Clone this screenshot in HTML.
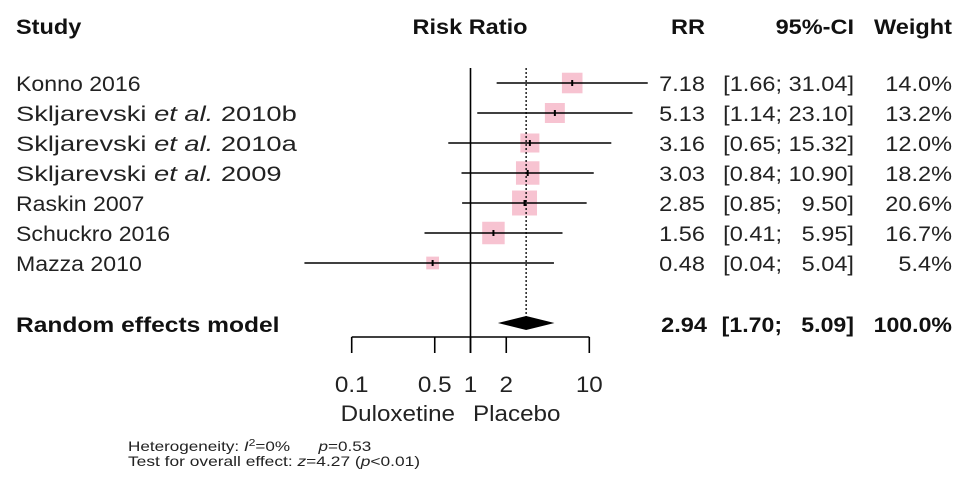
<!DOCTYPE html>
<html><head><meta charset="utf-8"><style>
html,body{margin:0;padding:0;background:#fff;width:969px;height:489px;overflow:hidden}
svg{font-family:"Liberation Sans",Arial,sans-serif}
#het{white-space:pre}
</style></head><body>
<svg id="fp" width="969" height="489" viewBox="0 0 969 489">
<g id="hdr" font-weight="bold" font-size="21" fill="#111">
<text class="st" x="16" y="34">Study</text>
<text class="st" x="470" y="34" text-anchor="middle">Risk Ratio</text>
<text class="st" x="705" y="34" text-anchor="end">RR</text>
<text class="st" x="854" y="34" text-anchor="end">95%-CI</text>
<text class="st" x="952" y="34" text-anchor="end">Weight</text>
</g>
<g id="rows"></g>
<g id="axis"></g>
<g font-size="14" fill="#222">
<text id="het" x="128" y="451">Heterogeneity: <tspan font-style="italic">I</tspan><tspan dy="-5" font-size="10">2</tspan><tspan dy="5">=0%      </tspan><tspan font-style="italic">p</tspan>=0.53</text>
<text id="ovr" x="128" y="466">Test for overall effect: <tspan font-style="italic">z</tspan>=4.27 (<tspan font-style="italic">p</tspan>&lt;0.01)</text>
</g>
</svg>
<script>
const studies=["Konno 2016","Skljarevski|2010b","Skljarevski|2010a","Skljarevski|2009","Raskin 2007","Schuckro 2016","Mazza 2010"];
const rr=[7.18,5.13,3.16,3.03,2.85,1.56,0.48];
const lower=[1.66,1.14,0.65,0.84,0.85,0.41,0.04];
const upper=[31.04,23.10,15.32,10.90,9.50,5.95,5.04];
const weights=[14.0,13.2,12.0,18.2,20.6,16.7,5.4];
const pooled=[2.94,1.70,5.09];
const ticks=[0.1,0.5,1,2,10];
const tickLabels=["0.1","0.5","1","2","10"];
const NS="http://www.w3.org/2000/svg";
const X=v=>470.5+Math.log10(v)*118.8;
const Y=i=>83+i*30;
function mk(p,t,a,txt){const e=document.createElementNS(NS,t);for(const k in a)e.setAttribute(k,a[k]);if(txt!==undefined)e.textContent=txt;p.appendChild(e);return e;}
const stretchList=[];
function st(el,f){stretchList.push([el,f]);}
const rows=document.getElementById('rows'),ax=document.getElementById('axis');
let l=mk(ax,'line',{x1:X(1),x2:X(1),y1:68,y2:353,stroke:'#000','stroke-width':1.6});


l=mk(ax,'line',{x1:X(pooled[0]),x2:X(pooled[0]),y1:68,y2:318,stroke:'#000','stroke-width':1.3,'stroke-dasharray':'2,2'});


const f2=v=>v.toFixed(2);
studies.forEach((s,i)=>{
 const y=Y(i);
 const g=mk(rows,'g',{fill:'#222'});
 
 
 const sz=5.5*Math.sqrt(weights[i]);
 const sq=mk(g,'rect',{x:X(rr[i])-sz/2,y:y-sz/2,width:sz,height:sz,fill:'#f7c3d1'});
 
 
 const ci=mk(g,'line',{x1:X(lower[i]),x2:X(upper[i]),y1:y,y2:y,stroke:'#000','stroke-width':1.6});
 
 
 const pt=mk(g,'line',{x1:X(rr[i]),x2:X(rr[i]),y1:y-3,y2:y+3,stroke:'#000','stroke-width':2});
 
 
 const parts=s.split('|');
 const t=mk(g,'text',{x:16,y:y+8,'font-size':21});
 
 
 if(parts.length>1){t.textContent=parts[0]+' ';mk(t,'tspan',{'font-style':'italic'},'et al.');mk(t,'tspan',{},' '+parts[1]);st(t,1.3);}
 else {t.textContent=s;st(t,1.1);}
 let tr=mk(g,'text',{x:705,y:y+8,'font-size':21,'text-anchor':'end'},f2(rr[i]));
 
 
 st(tr,1.12);
 const up=f2(upper[i]);const ciTxt='['+f2(lower[i])+'; '+(up.length<5?'  ':'')+up+']';
 let tc=mk(g,'text',{x:854,y:y+8,'font-size':21,'text-anchor':'end'},ciTxt);
 tc.style.whiteSpace='pre';
 
 
 st(tc,1.12);
 let tw=mk(g,'text',{x:952,y:y+8,'font-size':21,'text-anchor':'end'},weights[i].toFixed(1)+'%');
 
 
 st(tw,1.12);
});
const py=323;
const pg=mk(rows,'g',{'font-weight':'bold','font-size':21,fill:'#111'});


const dm=mk(pg,'polygon',{points:`${X(pooled[1])},${py} ${X(pooled[0])},${py-7} ${X(pooled[2])},${py} ${X(pooled[0])},${py+7}`,fill:'#000'});


let pt1=mk(pg,'text',{x:16,y:py+9},'Random effects model');


st(pt1,1.17);
let pt2=mk(pg,'text',{x:707,y:py+9,'text-anchor':'end'},f2(pooled[0]));


st(pt2,1.12);
let pt3=mk(pg,'text',{x:854,y:py+9,'text-anchor':'end'},'['+f2(pooled[1])+'; '+(pooled[2]<10?'  ':'')+f2(pooled[2])+']');
pt3.style.whiteSpace='pre';


st(pt3,1.1);
let pt4=mk(pg,'text',{x:952,y:py+9,'text-anchor':'end'},'100.0%');


st(pt4,1.1);
const ay=337;
l=mk(ax,'line',{x1:X(ticks[0]),x2:X(ticks[ticks.length-1]),y1:ay,y2:ay,stroke:'#000','stroke-width':1.6});


ticks.forEach((t,i)=>{
 const tk=mk(ax,'line',{x1:X(t),x2:X(t),y1:ay,y2:353,stroke:'#000','stroke-width':1.6});
 
 
 const tl=mk(ax,'text',{x:X(t),y:392,'font-size':22,'text-anchor':'middle',fill:'#222'},tickLabels[i]);
 
 
 st(tl,1.1);
});
let d1=mk(ax,'text',{x:455,y:421,'font-size':22,'text-anchor':'end',fill:'#222'},'Duloxetine');


st(d1,1.1);
let d2=mk(ax,'text',{x:473,y:421,'font-size':22,fill:'#222'},'Placebo');


st(d2,1.1);
document.querySelectorAll('.st').forEach(e=>st(e,1.12));
st(document.getElementById('het'),1.22);
st(document.getElementById('ovr'),1.24);
stretchList.forEach(([el,f])=>{
 const w=el.getComputedTextLength();
 el.setAttribute('textLength',(w*f).toFixed(1));
 el.setAttribute('lengthAdjust','spacingAndGlyphs');
});
</script>
</body></html>
